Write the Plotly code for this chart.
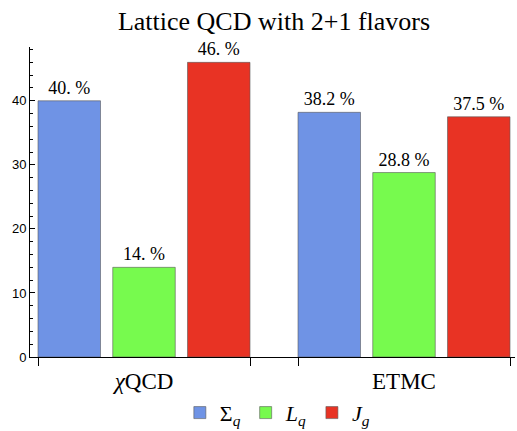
import plotly.graph_objects as go

# Spin decomposition of the proton from two lattice collaborations (percent)
groups = ["<i>χ</i>QCD", "ETMC"]
series_names = ["Σ<sub><i>q</i></sub>", "<i>L</i><sub><i>q</i></sub>", "<i>J</i><sub><i>g</i></sub>"]
sigma_q = [40, 38.2]
l_q = [14, 28.8]
j_g = [46, 37.5]
colors = ["#6f93e5", "#77fa4e", "#e83324"]
y_ticks = [0, 10, 20, 30, 40]

series = [sigma_q, l_q, j_g]

# bar geometry (in category units)
group_width = 0.8154
bar_width = 0.2404
inner_gap = (group_width - 3 * bar_width) / 2
centers = list(range(len(groups)))


def pct_label(v):
    s = f"{v:g}"
    if "." not in s:
        s += "."
    return s + " %"


fig = go.Figure()
for i, (name, vals, col) in enumerate(zip(series_names, series, colors)):
    fig.add_trace(go.Bar(
        x=centers,
        y=vals,
        name=name,
        width=bar_width,
        offset=-group_width / 2 + i * (bar_width + inner_gap),
        marker=dict(color=col, line=dict(color="rgba(90,90,90,0.6)", width=1)),
        text=[pct_label(v) for v in vals],
        textposition="outside",
        textfont=dict(family="Liberation Serif", size=18, color="black"),
        constraintext="none",
        cliponaxis=False,
    ))

edges = []
for c in centers:
    edges += [c - group_width / 2, c + group_width / 2]

fig.update_layout(
    template="none",
    width=517,
    height=431,
    margin=dict(l=30, r=2, t=47, b=74, autoexpand=False),
    plot_bgcolor="white",
    paper_bgcolor="white",
    barmode="overlay",
    title=dict(
        text="Lattice QCD with 2+1 flavors",
        font=dict(family="Liberation Serif", size=26, color="black"),
        x=0.53, xanchor="center", xref="container",
        y=0.952, yanchor="middle", yref="container",
    ),
    showlegend=True,
    legend=dict(
        orientation="h",
        x=0.51, xanchor="center",
        y=-0.18, yanchor="middle",
        font=dict(family="Liberation Serif", size=22, color="black"),
        itemwidth=30,
        tracegroupgap=0,
        bgcolor="rgba(0,0,0,0)",
    ),
    xaxis=dict(
        automargin=False,
        range=[-group_width / 2 - 8 / 260, 1 + group_width / 2 + 5 / 260],
        tickmode="array",
        tickvals=centers,
        ticktext=groups,
        ticks="",
        tickfont=dict(family="Liberation Serif", size=23, color="black"),
        showline=True, linecolor="black", linewidth=1,
        showgrid=False, zeroline=False,
        ticklabelstandoff=3,
        minor=dict(tickmode="array", tickvals=edges, ticks="outside",
                   ticklen=8, tickcolor="black", tickwidth=1, showgrid=False),
    ),
    yaxis=dict(
        automargin=False,
        range=[0, 48.4],
        tickmode="array",
        tickvals=y_ticks,
        ticks="inside",
        ticklen=5,
        tickcolor="black",
        tickfont=dict(family="Liberation Sans", size=13, color="black"),
        showline=True, linecolor="black", linewidth=1,
        showgrid=False, zeroline=False,
        minor=dict(tickmode="linear", tick0=0, dtick=2, ticks="inside",
                   ticklen=3, tickcolor="black", showgrid=False),
    ),
)

fig.write_html("out.html")
